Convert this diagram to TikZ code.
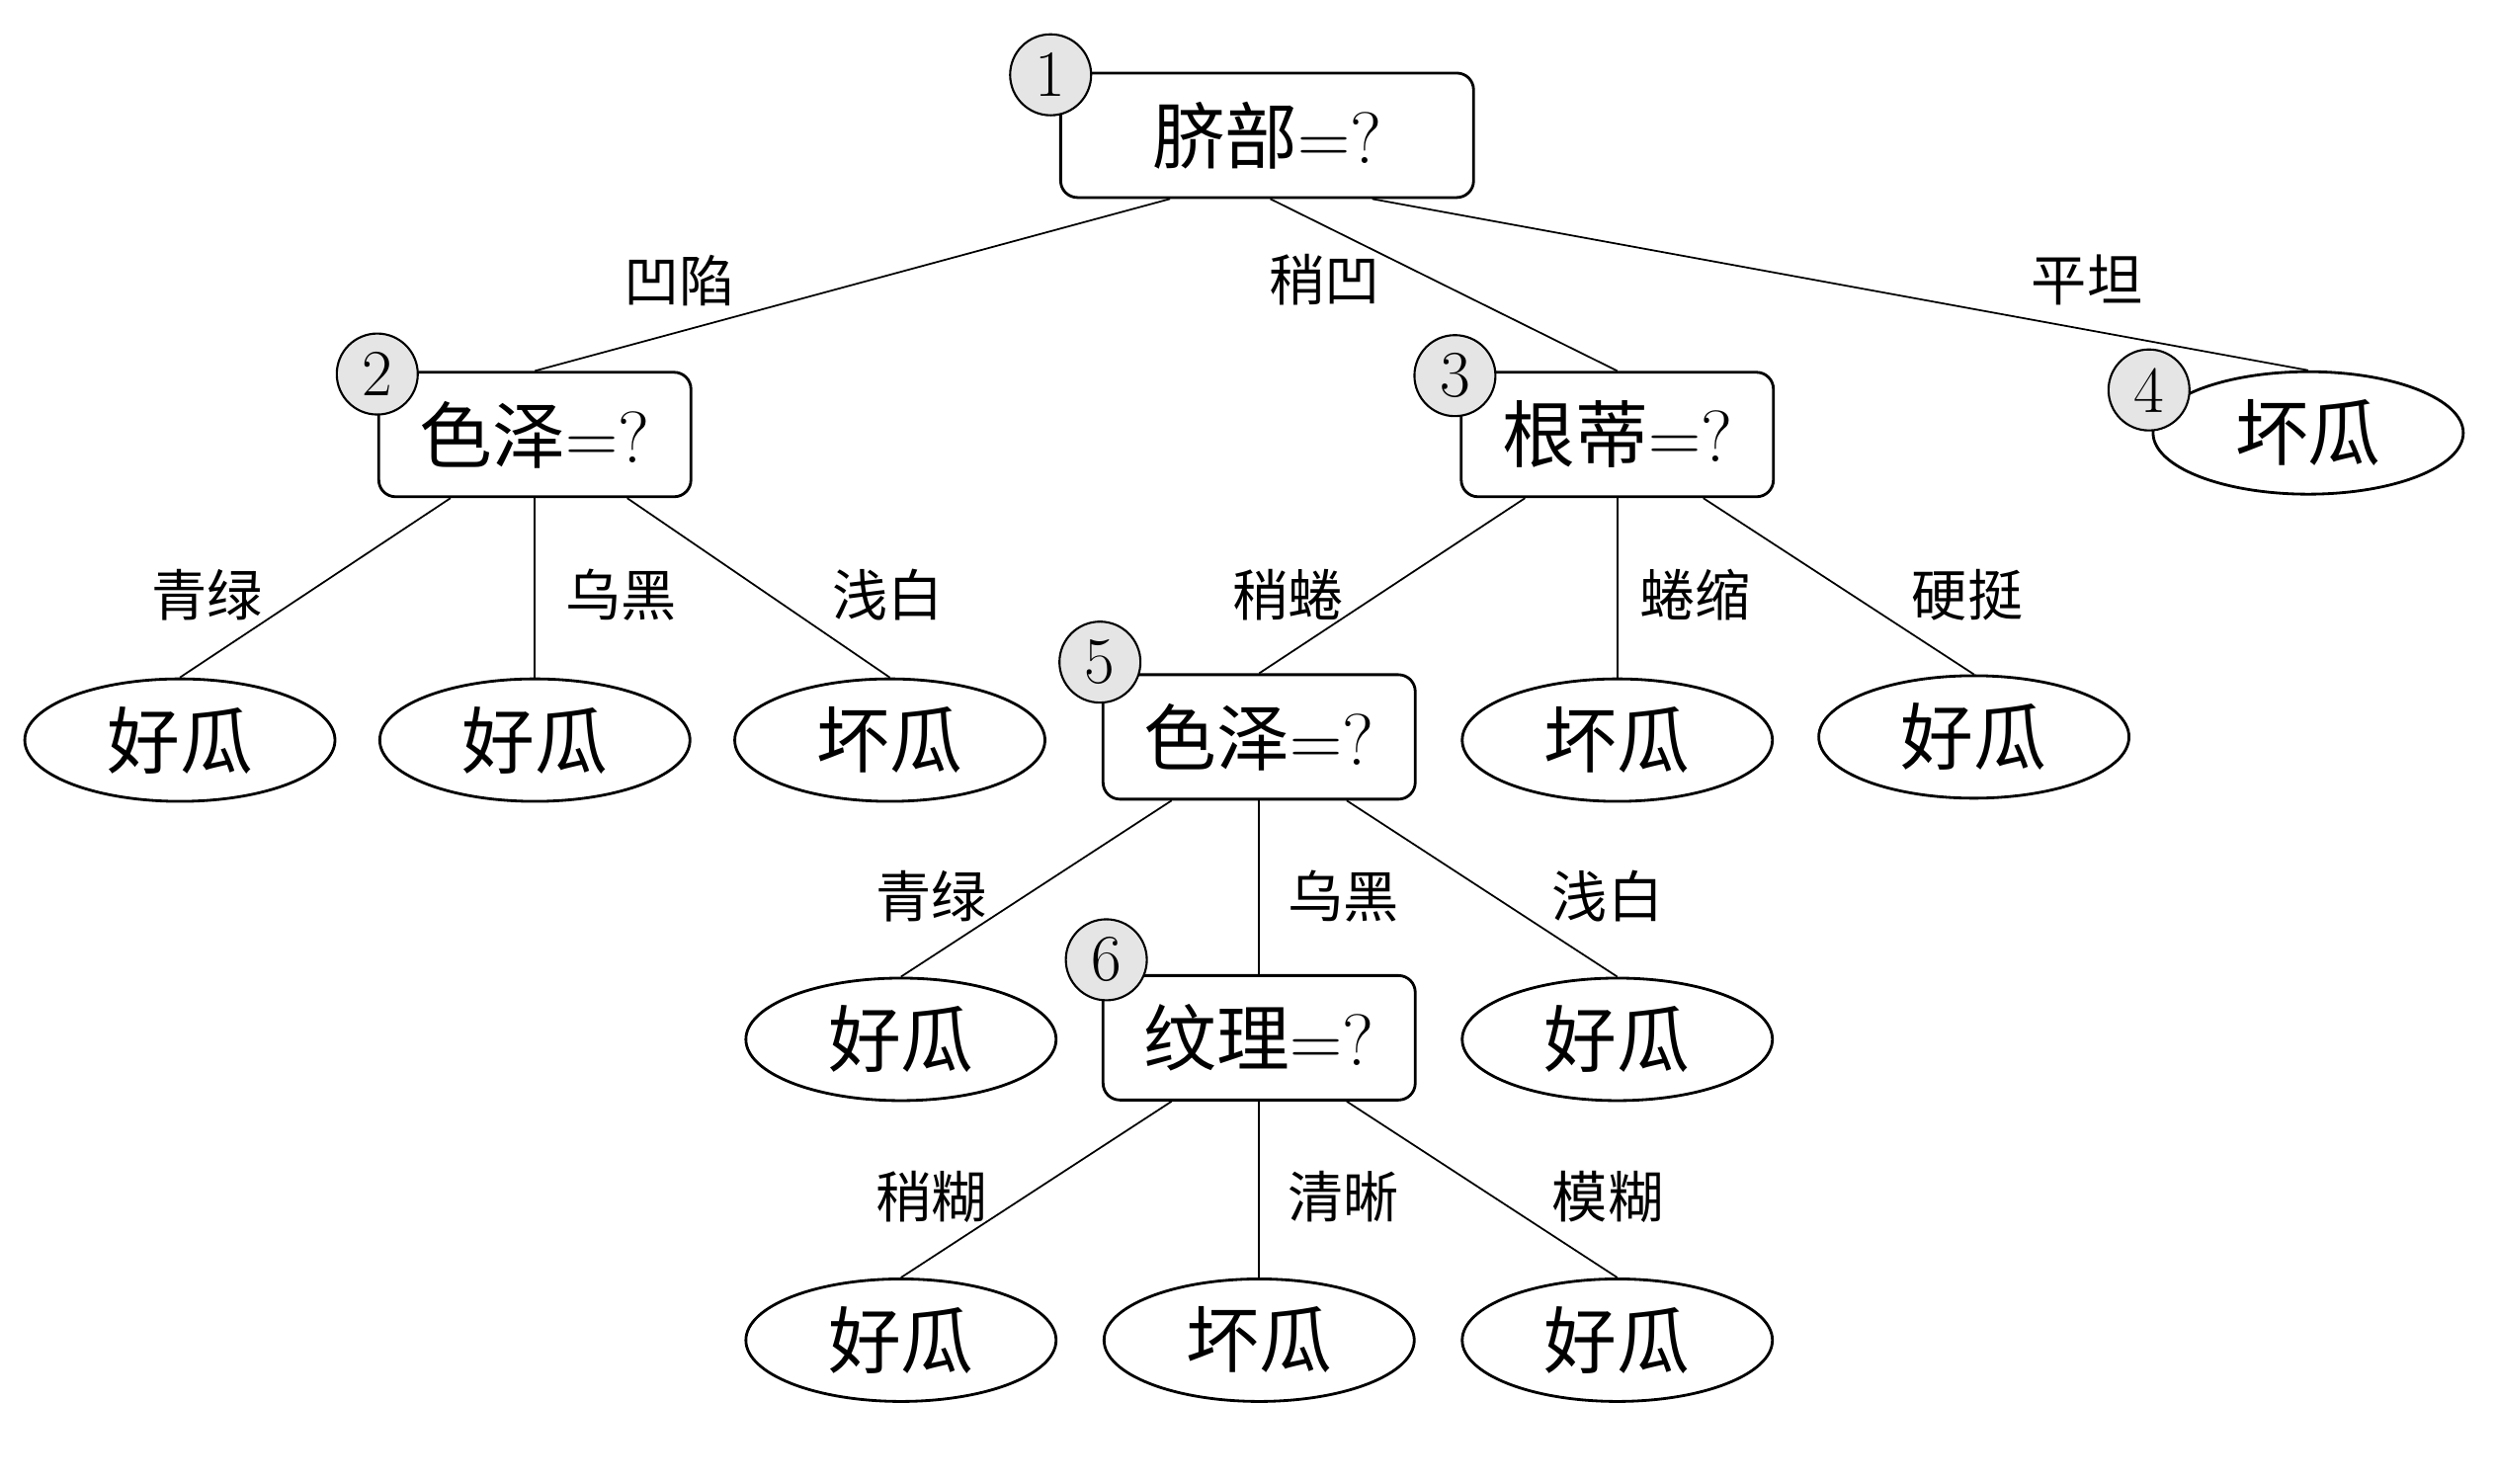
\documentclass[tikz,border=0pt]{standalone}
\usepackage{fontspec}
\newfontfamily\cjk{Noto Sans CJK SC}
\usetikzlibrary{shapes.geometric,calc}

\begin{document}
\begin{tikzpicture}[x=0.01611cm, y=-0.01611cm]
            % styles
            \tikzstyle{test}=[draw, rounded corners=0.17cm, line width=0.8pt, minimum width=3.16cm, minimum height=1.26cm, inner sep=0pt, font=\fontsize{21}{24}\selectfont]
            \tikzstyle{leaf}=[draw, ellipse, line width=0.8pt, minimum width=3.14cm, minimum height=1.24cm, inner sep=0pt, font=\cjk\fontsize{21}{24}\selectfont]
            \tikzstyle{num}=[circle, draw, line width=0.6pt, fill=gray!20, minimum size=0.82cm, inner sep=0pt, font=\fontsize{19}{21}\selectfont]
            \tikzstyle{edge}=[line width=0.5pt]
            \tikzstyle{lab}=[font=\cjk\fontsize{16}{18}\selectfont]

            \useasboundingbox (0,0) rectangle (1568,932.3);

            % tests
            \node[test, minimum width=4.18cm] (n1) at (796,85) {{\cjk 脐部}=?};
            \node[test] (n2) at (336,273) {{\cjk 色泽}=?};
            \node[test] (n3) at (1016,273) {{\cjk 根蒂}=?};
            \node[leaf] (n4) at (1450,272) {坏瓜};
            \node[test] (n5) at (791,463) {{\cjk 色泽}=?};
            \node[test] (n6) at (791,652) {{\cjk 纹理}=?};

            % leaves
            \node[leaf] (l21) at (113,465) {好瓜};
            \node[leaf] (l22) at (336,465) {好瓜};
            \node[leaf] (l23) at (559,465) {坏瓜};
            \node[leaf] (l32) at (1016,465) {坏瓜};
            \node[leaf] (l33) at (1240,463) {好瓜};
            \node[leaf] (l51) at (566,653) {好瓜};
            \node[leaf] (l53) at (1016,653) {好瓜};
            \node[leaf] (l61) at (566,842) {好瓜};
            \node[leaf] (l62) at (791,842) {坏瓜};
            \node[leaf] (l63) at (1016,842) {好瓜};

            % numbers
            \node[num] (c1) at (660,47) {1};
            \node[num] (c2) at (237,235) {2};
            \node[num] (c3) at (914,236) {3};
            \node[num] (c4) at (1350,245) {4};
            \node[num] (c5) at (691,416) {5};
            \node[num] (c6) at (695,603) {6};

            % edges
            \draw[edge] ($(n1.south)+(-61,0)$) -- (n2.north);
            \draw[edge] ($(n1.south)+(2,0)$) -- (n3.north);
            \draw[edge] ($(n1.south)+(66,0)$) -- (n4.north);
            \draw[edge] ($(n2.south)+(-53,0)$) -- (l21.north);
            \draw[edge] (n2.south) -- (l22.north);
            \draw[edge] ($(n2.south)+(58,0)$) -- (l23.north);
            \draw[edge] ($(n3.south)+(-58,0)$) -- (n5.north);
            \draw[edge] (n3.south) -- (l32.north);
            \draw[edge] ($(n3.south)+(54,0)$) -- (l33.north);
            \draw[edge] ($(n5.south)+(-55,0)$) -- (l51.north);
            \draw[edge] (n5.south) -- (n6.north);
            \draw[edge] ($(n5.south)+(55,0)$) -- (l53.north);
            \draw[edge] ($(n6.south)+(-55,0)$) -- (l61.north);
            \draw[edge] (n6.south) -- (l62.north);
            \draw[edge] ($(n6.south)+(55,0)$) -- (l63.north);

            % labels
            \node[lab] (e12) at (427,176) {凹陷};
            \node[lab] (e13) at (832,176) {稍凹};
            \node[lab] (e14) at (1311,176) {平坦};
            \node[lab] (e21) at (130,374) {青绿};
            \node[lab] (e22) at (390,374) {乌黑};
            \node[lab] (e23) at (558,374) {浅白};
            \node[lab] (e35) at (809,374) {稍蜷};
            \node[lab] (e32) at (1065,374) {蜷缩};
            \node[lab] (e33) at (1236,374) {硬挺};
            \node[lab] (e51) at (585,563) {青绿};
            \node[lab] (e56) at (844,563) {乌黑};
            \node[lab] (e53) at (1010,563) {浅白};
            \node[lab] (e61) at (585,752) {稍糊};
            \node[lab] (e62) at (844,752) {清晰};
            \node[lab] (e63) at (1010,752) {模糊};
        \end{tikzpicture}
\end{document}
